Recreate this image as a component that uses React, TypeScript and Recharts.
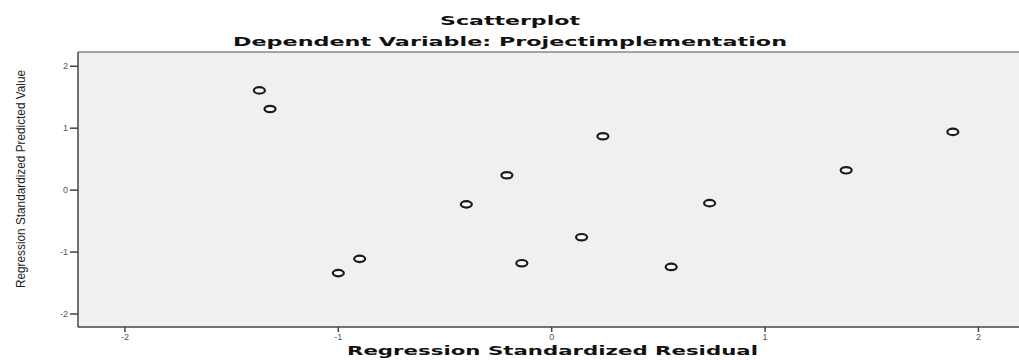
import React from "react";
import {
  ScatterChart,
  Scatter,
  XAxis,
  YAxis,
  CartesianGrid,
  ReferenceLine,
} from "recharts";

// standardized residual (x) vs standardized predicted value (y)
const residuals = [-1.37, -1.32, 0.24, -0.21, -0.4, -1.0, -0.9, -0.14, 0.14, 0.56, 0.74, 1.38, 1.88];
const predicted = [1.61, 1.31, 0.87, 0.24, -0.23, -1.34, -1.11, -1.18, -0.76, -1.24, -0.21, 0.32, 0.94];
const xTicks = [-2, -1, 0, 1, 2];
const yTicks = [-2, -1, 0, 1, 2];

const points = residuals.map((x, i) => ({ x, y: predicted[i] }));

const W = 1019;
const H = 360;

function Marker(props: any) {
  const { cx, cy } = props;
  if (cx == null || cy == null) return null;
  return <ellipse cx={cx} cy={cy} rx={5.5} ry={3.2} fill="#fafafa" stroke="#1a1a1a" strokeWidth={2.2} />;
}

const boldFont = "'DejaVu Sans', 'Liberation Sans', sans-serif";

function XTitle(props: any) {
  return (
    <text
      x={347}
      y={355}
      fontFamily={boldFont}
      fontWeight="bold"
      fontSize={12}
      fill="#111"
      textLength={411}
      lengthAdjust="spacingAndGlyphs"
    >
      Regression Standardized Residual
    </text>
  );
}

function YTitle(props: any) {
  return (
    <text
      transform="translate(25, 288) rotate(-90)"
      fontFamily="'Liberation Sans', Arial, sans-serif"
      fontSize={12}
      fill="#222"
      textLength={218}
      lengthAdjust="spacingAndGlyphs"
    >
      Regression Standardized Predicted Value
    </text>
  );
}

export default function App() {
  return (
    <div style={{ position: "absolute", left: 0, top: 0, width: W, height: H, background: "#fff" }}>
      <svg width={W} height={50} style={{ position: "absolute", left: 0, top: 0 }}>
        <text
          x={440}
          y={25}
          fontFamily={boldFont}
          fontWeight="bold"
          fontSize={12}
          fill="#111"
          textLength={140}
          lengthAdjust="spacingAndGlyphs"
        >
          Scatterplot
        </text>
        <text
          x={233}
          y={46}
          fontFamily={boldFont}
          fontWeight="bold"
          fontSize={12.5}
          fill="#111"
          textLength={554}
          lengthAdjust="spacingAndGlyphs"
        >
          Dependent Variable: Projectimplementation
        </text>
      </svg>
      <div style={{ position: "absolute", left: 0, top: 0 }}>
        <ScatterChart width={W} height={H} margin={{ top: 52, right: 0, bottom: 0, left: 0 }}>
          <CartesianGrid horizontal={false} vertical={false} fill="#f0f0f0" />
          <XAxis
            type="number"
            dataKey="x"
            domain={[-2.22, 2.19]}
            ticks={xTicks}
            height={33}
            allowDataOverflow
            stroke="#444"
            strokeWidth={1.5}
            tickSize={5}
            tick={{ fontSize: 9, fill: "#555", fontFamily: "'Liberation Sans', Arial, sans-serif" }}
            label={<XTitle />}
          />
          <YAxis
            type="number"
            dataKey="y"
            domain={[-2.21, 2.23]}
            ticks={yTicks}
            width={78}
            allowDataOverflow
            stroke="#444"
            strokeWidth={1.5}
            tickSize={8}
            tick={{ fontSize: 9, fill: "#555", fontFamily: "'Liberation Sans', Arial, sans-serif" }}
            label={<YTitle />}
          />
          <ReferenceLine y={2.23} stroke="#888" strokeWidth={1.5} ifOverflow="visible" />
          <Scatter data={points} shape={<Marker />} isAnimationActive={false} />
        </ScatterChart>
      </div>
    </div>
  );
}
